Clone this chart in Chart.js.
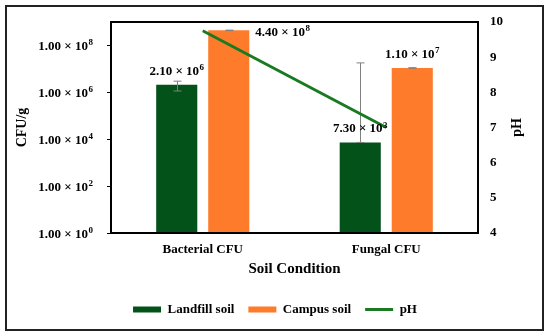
<!DOCTYPE html>
<html>
<head>
<meta charset="utf-8">
<script src="https://cdn.jsdelivr.net/npm/chart.js@4.4.1/dist/chart.umd.min.js"></script>
<style>
  html, body { margin: 0; padding: 0; background: #fff; }
  #wrap { width: 550px; height: 336px; position: relative; }
</style>
</head>
<body>
<div id="wrap"><canvas id="c" width="550" height="336"></canvas></div>
<script>
// ---- data ----
const categories = ['Bacterial CFU', 'Fungal CFU'];
const landfill = [2.1e6, 7.3e3];
const campus = [4.4e8, 1.1e7];
const phValues = [9.75, 7.0];
const landfillErrLow = [1.14e6, 7.3e3];
const landfillErrHigh = [3.0e6, 1.8e7];
const campusErrLow = [4.3e8, 1.08e7];
const campusErrHigh = [4.5e8, 1.12e7];
const landfillLabelMant = ['2.10 × 10', '7.30 × 10'];
const landfillLabelExp = ['6', '3'];
const campusLabelMant = ['4.40 × 10', '1.10 × 10'];
const campusLabelExp = ['8', '7'];
const yTickValues = [1, 1e2, 1e4, 1e6, 1e8];
const yTickMant = ['1.00 × 10', '1.00 × 10', '1.00 × 10', '1.00 × 10', '1.00 × 10'];
const yTickExp = ['0', '2', '4', '6', '8'];
const y2Ticks = [4, 5, 6, 7, 8, 9, 10];

const FONT = '"Liberation Serif", "Times New Roman", serif';
const GREEN = '#03521a';
const ORANGE = '#ff7b2c';
const LINEGREEN = '#1a7a22';

function drawSci(ctx, mant, exp, x, y, align) {
  ctx.save();
  ctx.fillStyle = '#000';
  ctx.textBaseline = 'alphabetic';
  ctx.textAlign = 'left';
  const baseFont = 'bold 13px ' + FONT;
  const expFont = 'bold 9px ' + FONT;
  ctx.font = baseFont;
  const w1 = ctx.measureText(mant).width;
  ctx.font = expFont;
  const w2 = ctx.measureText(exp).width;
  const total = w1 + w2 + 0.5;
  let x0 = x;
  if (align === 'center') x0 = x - total / 2;
  else if (align === 'right') x0 = x - total;
  const base = y + 4.5; // y is visual middle
  ctx.font = baseFont;
  ctx.fillText(mant, x0, base);
  ctx.font = expFont;
  ctx.fillText(exp, x0 + w1 + 0.5, base - 4.5);
  ctx.restore();
}

const frame = {
  id: 'frame',
  beforeDraw(chart) {
    const ctx = chart.ctx;
    ctx.save();
    ctx.fillStyle = '#fff';
    ctx.fillRect(0, 0, chart.width, chart.height);
    ctx.restore();
  },
  afterDraw(chart) {
    const ctx = chart.ctx;
    const a = chart.chartArea;
    ctx.save();
    ctx.strokeStyle = '#000';
    ctx.lineWidth = 2;
    ctx.strokeRect(a.left, a.top, a.right - a.left, a.bottom - a.top);
    ctx.strokeStyle = '#222';
    ctx.lineWidth = 2;
    ctx.strokeRect(6, 6, 537, 324);
    ctx.restore();
    // left axis tick labels with superscripts
    const y = chart.scales.y;
    yTickValues.forEach((v, i) => {
      drawSci(ctx, yTickMant[i], yTickExp[i], a.left - 18, y.getPixelForValue(v), 'right');
    });
    // right axis title (reads bottom to top)
    ctx.save();
    ctx.fillStyle = '#000';
    ctx.font = 'bold 14px ' + FONT;
    ctx.textAlign = 'center';
    ctx.textBaseline = 'middle';
    ctx.translate(a.right + 39, (a.top + a.bottom) / 2);
    ctx.rotate(-Math.PI / 2);
    ctx.fillText('pH', 0, 0);
    ctx.restore();
  }
};

const errLabels = {
  id: 'errLabels',
  afterDatasetDraw(chart, args) {
    const idx = args.index;
    if (idx > 1) return;
    const ctx = chart.ctx;
    const y = chart.scales.y;
    const meta = chart.getDatasetMeta(idx);
    const lows = idx === 0 ? landfillErrLow : campusErrLow;
    const highs = idx === 0 ? landfillErrHigh : campusErrHigh;
    ctx.save();
    ctx.strokeStyle = '#808080';
    ctx.lineWidth = 1;
    meta.data.forEach((bar, i) => {
      const x = Math.round(bar.x) + 0.5;
      const yl = y.getPixelForValue(lows[i]);
      const yh = y.getPixelForValue(highs[i]);
      ctx.beginPath();
      ctx.moveTo(x, yl); ctx.lineTo(x, yh);
      ctx.moveTo(x - 4, yl); ctx.lineTo(x + 4, yl);
      ctx.moveTo(x - 4, yh); ctx.lineTo(x + 4, yh);
      ctx.stroke();
    });
    ctx.restore();
  },
  afterDatasetsDraw(chart) {
    const ctx = chart.ctx;
    [0, 1].forEach(di => {
      const meta = chart.getDatasetMeta(di);
      const mant = di === 0 ? landfillLabelMant : campusLabelMant;
      const exps = di === 0 ? landfillLabelExp : campusLabelExp;
      meta.data.forEach((bar, i) => {
        if (di === 1 && i === 0) {
          drawSci(ctx, mant[i], exps[i], bar.x + bar.width / 2 + 6, bar.y + 1, 'left');
        } else {
          drawSci(ctx, mant[i], exps[i], bar.x, bar.y - 14.5, 'center');
        }
      });
    });
  }
};

new Chart(document.getElementById('c'), {
  data: {
    labels: categories,
    datasets: [
      { type: 'bar', label: 'Landfill soil', data: landfill, backgroundColor: GREEN, borderWidth: 0, pointStyle: 'rect', order: 2, yAxisID: 'y' },
      { type: 'bar', label: 'Campus soil', data: campus, backgroundColor: ORANGE, borderWidth: 0, pointStyle: 'rect', order: 2, yAxisID: 'y' },
      { type: 'line', label: 'pH', data: phValues, borderColor: LINEGREEN, backgroundColor: LINEGREEN, borderWidth: 3, pointRadius: 0, pointStyle: 'line', order: 0, yAxisID: 'y2' }
    ]
  },
  options: {
    responsive: false,
    animation: false,
    devicePixelRatio: 1,
    categoryPercentage: 0.567,
    barPercentage: 0.79,
    layout: { padding: { top: 22, left: 0, right: 0, bottom: 10 } },
    plugins: {
      legend: {
        position: 'bottom',
        labels: {
          usePointStyle: true, pointStyleWidth: 28,
          boxWidth: 28, boxHeight: 6, padding: 14, color: '#000',
          font: { family: FONT, size: 13, weight: 'bold' },
          sort: (a, b) => a.datasetIndex - b.datasetIndex
        }
      },
      tooltip: { enabled: false }
    },
    scales: {
      x: {
        grid: { display: false, drawTicks: false },
        border: { display: false },
        ticks: { color: '#000', padding: 9, font: { family: FONT, size: 13, weight: 'bold' } },
        title: { display: true, text: 'Soil Condition', color: '#000', padding: { top: 0, bottom: 11 }, font: { family: FONT, size: 15, weight: 'bold' } },
        afterFit: s => { s.height = 56; }
      },
      y: {
        type: 'logarithmic',
        position: 'left',
        min: 1, max: 1e9,
        grid: { drawOnChartArea: false, drawTicks: true, tickLength: 4, color: '#000' },
        border: { display: false },
        afterBuildTicks: s => { s.ticks = yTickValues.map(v => ({ value: v })); },
        ticks: { display: false },
        title: { display: true, text: 'CFU/g', color: '#000', padding: { top: 14, bottom: 0 }, font: { family: FONT, size: 14, weight: 'bold' } },
        afterFit: s => { s.width = 111; }
      },
      y2: {
        type: 'linear',
        position: 'right',
        min: 4, max: 10,
        grid: { drawOnChartArea: false, drawTicks: false },
        border: { display: false },
        afterBuildTicks: s => { s.ticks = y2Ticks.map(v => ({ value: v })); },
        ticks: { color: '#000', padding: 12, font: { family: FONT, size: 13, weight: 'bold' } },
        afterFit: s => { s.width = 72; }
      }
    }
  },
  plugins: [frame, errLabels]
});
</script>
</body>
</html>
